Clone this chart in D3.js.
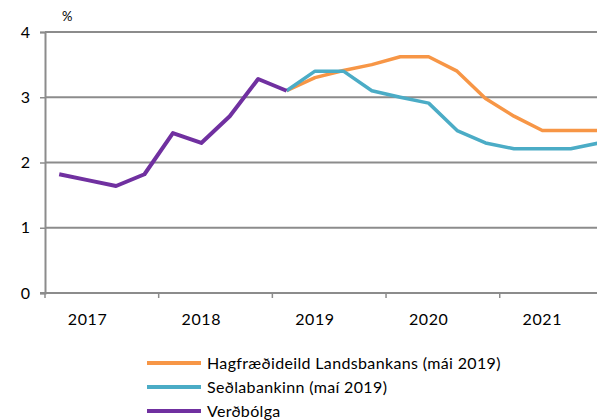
<!DOCTYPE html>
<html>
<head>
<meta charset="utf-8">
<script src="https://cdn.jsdelivr.net/npm/d3@7"></script>
<style>
  body { margin: 0; background: #fff; }
  text { font-family: Lato, "Open Sans", sans-serif; fill: #000; }
</style>
</head>
<body>
<script>
const years = ["2017", "2018", "2019", "2020", "2021"]
const quarters = years.flatMap(y => ["Q1", "Q2", "Q3", "Q4"].map(q => y + q))

// Verðbólga, 2017Q1 - 2019Q1
const inflation = [1.82, 1.73, 1.64, 1.82, 2.45, 2.30, 2.71, 3.28, 3.10]
// spár frá 2019Q1
const bankForecast = [3.10, 3.30, 3.41, 3.50, 3.62, 3.62, 3.40, 2.98, 2.71, 2.49, 2.49, 2.49]
const cbForecast = [3.10, 3.40, 3.40, 3.10, 3.00, 2.91, 2.49, 2.30, 2.21, 2.21, 2.21, 2.30]

const yTicks = [0, 1, 2, 3, 4]

const series = [
  { name: "Hagfræðideild Landsbankans (mái 2019)", color: "#F79646", start: 8, values: bankForecast, w: 3.5 },
  { name: "Seðlabankinn (maí 2019)", color: "#4BACC6", start: 8, values: cbForecast, w: 3.5 },
  { name: "Verðbólga", color: "#7030A0", start: 0, values: inflation, w: 4 }
]

const width = 597, height = 420
const margin = { top: 32, left: 45, bottom: 127 }
const plotRight = 45 + 20 * 28.42

const svg = d3.select('body').append('svg')
  .attr('width', width)
  .attr('height', height)

const x = d3.scaleBand().domain(quarters).range([margin.left, plotRight])
const y = d3.scaleLinear().domain([0, 4]).range([height - margin.bottom, margin.top])

// gridlines
svg.append('g')
  .selectAll('line')
  .data(yTicks.slice(1))
  .enter().append('line')
    .attr('x1', margin.left).attr('x2', width)
    .attr('y1', d => y(d)).attr('y2', d => y(d))
    .attr('stroke', '#8c8c8c')
    .attr('stroke-width', 2)

// y axis
const yAxis = svg.append('g')
  .attr('transform', `translate(${margin.left},0)`)
  .call(d3.axisLeft(y).tickValues(yTicks).tickSize(5).tickPadding(10).tickFormat(d3.format('d')))
yAxis.select('.domain').attr('stroke', '#8c8c8c').attr('stroke-width', 2)
yAxis.selectAll('.tick line').attr('stroke', '#8c8c8c').attr('stroke-width', 1.5)
yAxis.selectAll('.tick text').style('font-size', '16px').attr('fill', '#000')

// x axis
const x0 = y(0)
svg.append('line')
  .attr('x1', margin.left - 5).attr('x2', width)
  .attr('y1', x0).attr('y2', x0)
  .attr('stroke', '#8c8c8c').attr('stroke-width', 2)

svg.append('g')
  .selectAll('line')
  .data(years)
  .enter().append('line')
    .attr('x1', d => x(d + 'Q1')).attr('x2', d => x(d + 'Q1'))
    .attr('y1', x0).attr('y2', x0 + 5)
    .attr('stroke', '#8c8c8c').attr('stroke-width', 1.5)

svg.append('g')
  .selectAll('text')
  .data(years)
  .enter().append('text')
    .attr('x', d => x(d + 'Q2') + x.bandwidth() / 2)
    .attr('y', x0 + 32)
    .attr('text-anchor', 'middle')
    .style('font-size', '16px')
    .style('letter-spacing', '0.6px')
    .text(d => d)

svg.append('text')
  .attr('x', 62).attr('y', 21)
  .style('font-size', '13px')
  .text('%')

// lines
const line = d3.line()
  .x(d => x(d.q) + x.bandwidth() / 2)
  .y(d => y(d.v))

series.forEach(s => {
  const pts = s.values.map((v, i) => ({ q: quarters[s.start + i], v: v }))
  svg.append('path')
    .datum(pts)
    .attr('d', line)
    .attr('fill', 'none')
    .attr('stroke', s.color)
    .attr('stroke-width', s.w)
    .attr('stroke-linejoin', 'round')
})

// legend
const legend = svg.selectAll('.legend')
  .data(series)
  .enter().append('g')
    .attr('class', 'legend')
    .attr('transform', (d, i) => `translate(147,${363 + i * 24})`)

legend.append('line')
  .attr('x1', 0).attr('x2', 54)
  .attr('stroke', d => d.color)
  .attr('stroke-width', 4)

legend.append('text')
  .attr('x', 60)
  .attr('dy', '0.35em')
  .style('font-size', '16px')
  .style('letter-spacing', '0.35px')
  .text(d => d.name)
</script>
</body>
</html>
